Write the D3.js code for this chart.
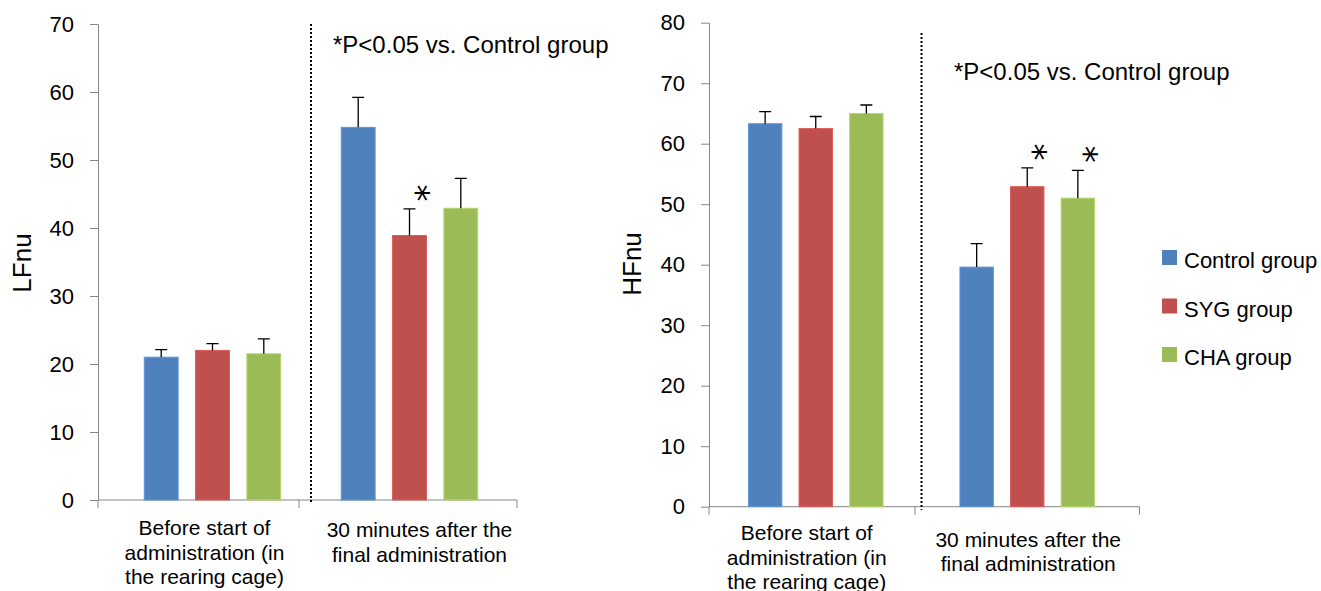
<!DOCTYPE html>
<html>
<head>
<meta charset="utf-8">
<script src="https://cdn.jsdelivr.net/npm/d3@7"></script>
<style>
  body { margin: 0; background: #fff; }
  text { font-family: "Liberation Sans", Arial, sans-serif; fill: #000; }
</style>
</head>
<body>
<svg id="chart" width="1321" height="591"></svg>
<script>
// ---- data ----
const groupLabels = [
    ["Before start of", "administration (in", "the rearing cage)"],
    ["30 minutes after the", "final administration"]
];
const groupKeys = ["before", "after"];
const seriesNames = ["Control group", "SYG group", "CHA group"];
const seriesColors = ["#4f81bd", "#c0504d", "#9bbb59"];

const lfMeans = [[21.0, 22.0, 21.5], [54.8, 38.9, 42.9]];
const lfErrors = [[1.1, 1.0, 2.2], [4.4, 3.9, 4.4]];
const lfStars = [[false, false, false], [false, true, false]];
const lfTicks = [0, 10, 20, 30, 40, 50, 60, 70];

const hfMeans = [[63.3, 62.5, 65.0], [39.6, 52.9, 51.0]];
const hfErrors = [[2.0, 2.0, 1.4], [3.9, 3.1, 4.6]];
const hfStars = [[false, false, false], [false, true, true]];
const hfTicks = [0, 10, 20, 30, 40, 50, 60, 70, 80];

const noteText = "*P<0.05 vs. Control group";

const svg = d3.select('#chart');

function drawPanel(p) {
    const g = svg.append('g');

    const y = d3.scaleLinear()
        .domain([0, d3.max(p.ticks)])
        .range([p.yBottom, p.yTop]);

    const x0 = d3.scaleBand()
        .domain(groupKeys)
        .range(p.groupRange);

    const x1 = d3.scaleBand()
        .domain(seriesNames)
        .range([0, x0.bandwidth()])
        .paddingInner(0.34)
        .paddingOuter(p.outerPad);

    // y axis
    const yAxis = g.append('g')
        .attr('transform', `translate(${p.axisX},0)`)
        .call(d3.axisLeft(y).tickValues(p.ticks).tickSize(8).tickSizeOuter(0).tickPadding(16));
    yAxis.select('.domain').attr('stroke', '#868686');
    yAxis.selectAll('.tick line').attr('stroke', '#868686');
    yAxis.selectAll('.tick text')
        .style('font-size', '22px')
        .style('font-family', '"Liberation Sans", Arial, sans-serif')
        .attr('fill', '#1a1a1a');

    // x axis line with category boundary ticks
    g.append('line')
        .attr('x1', p.axisX).attr('x2', p.boundaries[2])
        .attr('y1', y(0)).attr('y2', y(0))
        .attr('stroke', '#868686');
    g.selectAll('.xtick')
        .data(p.boundaries)
        .enter().append('line')
        .attr('class', 'xtick')
        .attr('x1', d => d).attr('x2', d => d)
        .attr('y1', y(0)).attr('y2', y(0) + 8)
        .attr('stroke', '#868686');

    // dotted divider
    const divX = x0(groupKeys[1]);
    g.append('line')
        .attr('x1', divX).attr('x2', divX)
        .attr('y1', p.dividerTop).attr('y2', y(0) + 3)
        .attr('stroke', '#000')
        .attr('stroke-width', 2)
        .attr('stroke-dasharray', '2,2');

    // bars
    const flat = [];
    p.means.forEach((row, gi) => row.forEach((v, si) => flat.push({
        group: groupKeys[gi], series: seriesNames[si], color: seriesColors[si],
        value: v, err: p.errors[gi][si], star: p.stars[gi][si]
    })));

    g.selectAll('.bar')
        .data(flat)
        .enter().append('rect')
        .attr('class', 'bar')
        .attr('x', d => x0(d.group) + x1(d.series))
        .attr('y', d => y(d.value))
        .attr('width', x1.bandwidth())
        .attr('height', d => y(0) - y(d.value))
        .attr('fill', d => d.color)
        .attr('stroke', d => d3.color(d.color).brighter(0.4))
        .attr('stroke-width', 1);

    // error bars (upper only)
    const cx = d => x0(d.group) + x1(d.series) + x1.bandwidth() / 2;
    g.selectAll('.err')
        .data(flat)
        .enter().append('path')
        .attr('class', 'err')
        .attr('d', d => `M${cx(d)},${y(d.value)}V${y(d.value + d.err)}M${cx(d) - 6},${y(d.value + d.err)}H${cx(d) + 6}`)
        .attr('stroke', '#000')
        .attr('stroke-width', 1.3)
        .attr('fill', 'none');

    // significance stars (six-armed, turned so the arms lie flat)
    g.selectAll('.star')
        .data(flat.filter(d => d.star))
        .enter().append('g')
        .attr('class', 'star')
        .attr('transform', d => `translate(${cx(d) + 12},${y(d.value + d.err) - 16}) rotate(90)`)
        .append('text')
        .attr('y', 17)
        .attr('text-anchor', 'middle')
        .style('font-size', '34px')
        .style('font-family', '"DejaVu Sans", sans-serif')
        .text('*');

    // category labels
    groupLabels.forEach((lines, gi) => {
        const t = g.append('text')
            .attr('text-anchor', 'middle')
            .style('font-size', '21px');
        const lx = x0(groupKeys[gi]) + x0.bandwidth() / 2 + p.labelShift[gi];
        const ly = y(0) + p.labelY + (3 - lines.length) * p.labelLift;
        lines.forEach((ln, li) => {
            t.append('tspan')
                .attr('x', lx)
                .attr('y', ly + li * 24.5)
                .text(ln);
        });
    });

    // y axis title
    g.append('text')
        .attr('transform', `translate(${p.titleX},${p.titleY}) rotate(-90)`)
        .attr('text-anchor', 'middle')
        .style('font-size', '26px')
        .text(p.yLabel);

    // note
    g.append('text')
        .attr('x', p.noteX).attr('y', p.noteY)
        .style('font-size', '24px')
        .text(noteText);
}

drawPanel({
    yLabel: 'LFnu', means: lfMeans, errors: lfErrors, stars: lfStars, ticks: lfTicks,
    axisX: 98, yTop: 24, yBottom: 500,
    groupRange: [114, 508], outerPad: 0.59,
    boundaries: [98, 299, 517], dividerTop: 24,
    labelShift: [-8, 10], labelY: 35, labelLift: 2,
    titleX: 31, titleY: 263, noteX: 333, noteY: 53
});

drawPanel({
    yLabel: 'HFnu', means: hfMeans, errors: hfErrors, stars: hfStars, ticks: hfTicks,
    axisX: 709, yTop: 22.7, yBottom: 506.7,
    groupRange: [710, 1133], outerPad: 0.76,
    boundaries: [709, 915, 1139.5], dividerTop: 33,
    labelShift: [-9, 1], labelY: 33.5, labelLift: 6.5,
    titleX: 641, titleY: 264, noteX: 954, noteY: 80
});

// legend
const legend = svg.append('g').attr('transform', 'translate(1162,250)');
const items = legend.selectAll('g')
    .data(seriesNames)
    .enter().append('g')
    .attr('transform', (d, i) => `translate(0,${i * 48.5})`);
items.append('rect')
    .attr('width', 15).attr('height', 15)
    .attr('fill', (d, i) => seriesColors[i]);
items.append('text')
    .attr('x', 22).attr('y', 18)
    .style('font-size', '22px')
    .text(d => d);
</script>
</body>
</html>
